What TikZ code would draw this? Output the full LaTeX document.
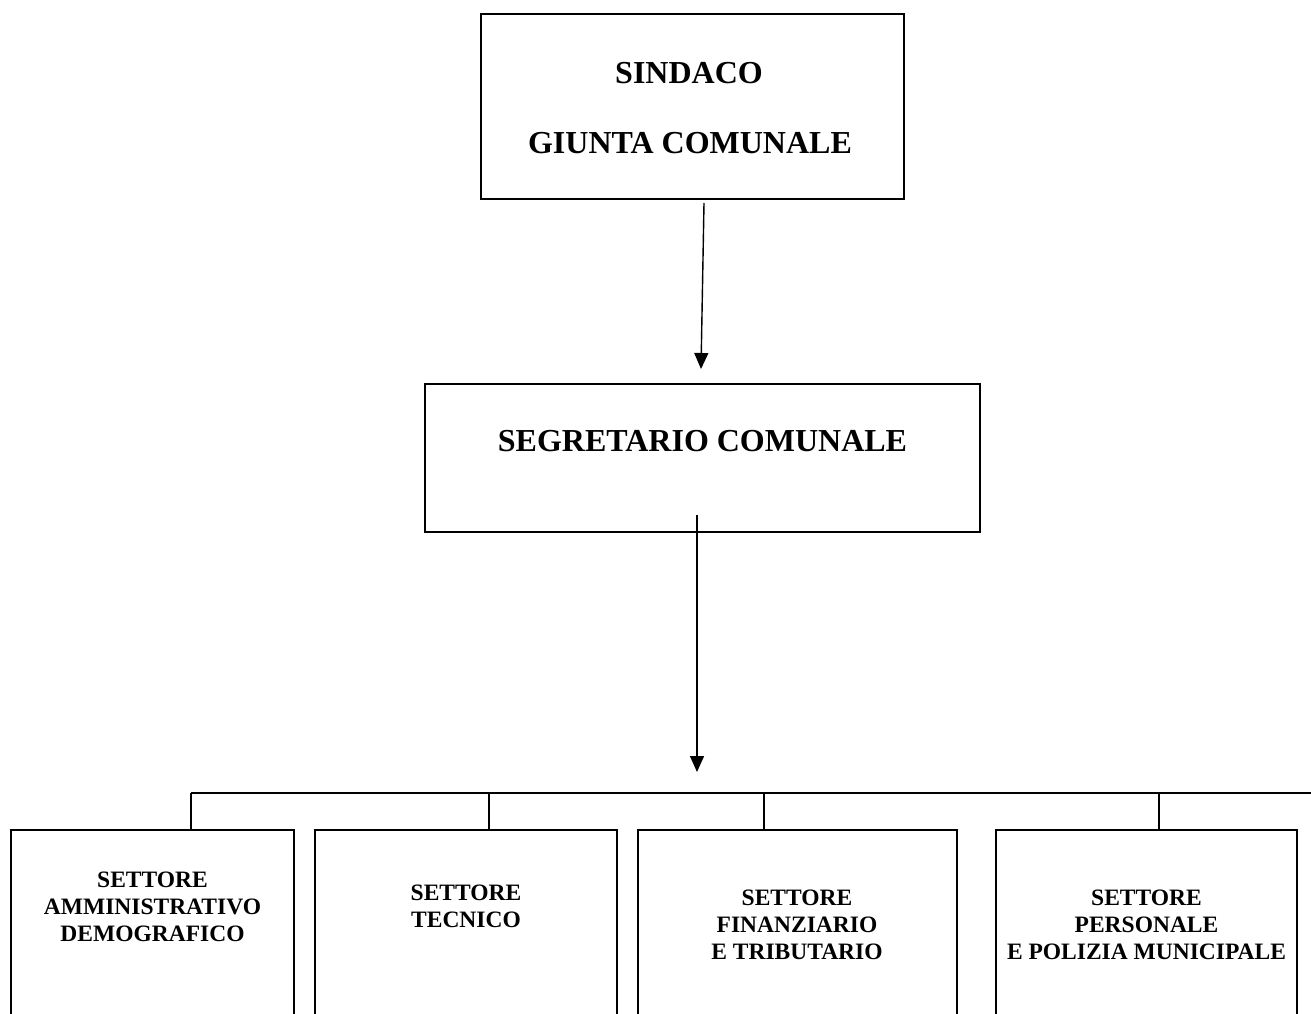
\documentclass[tikz,border=0pt]{standalone}
\usepackage{fontspec}
\setmainfont{Liberation Serif}
\usetikzlibrary{arrows.meta}
\begin{document}
\begin{tikzpicture}[x=1pt,y=-1pt,
  box/.style={draw, line width=2.2pt, rectangle, inner sep=0pt},
  big/.style={font=\bfseries\fontsize{32}{38}\selectfont, inner sep=0pt},
  small/.style={font=\bfseries\fontsize{23.5}{27}\selectfont, align=center, inner sep=0pt},
  arr/.style={line width=1.4pt, -{Triangle[length=16pt,width=14pt]}},
  link/.style={line width=2.2pt}]
\clip (0,0) rectangle (1311,1014);
\fill[white] (0,0) rectangle (1311,1014);
% top box
\node[box, minimum width=423pt, minimum height=185pt] (sind) at (692.5,106.5) {};
\node[big] (tsind) at (689,73) {SINDACO};
\node[big] (tgiunta) at (690,143) {GIUNTA COMUNALE};
% middle box
\node[box, minimum width=555pt, minimum height=148pt] (seg) at (702.5,458) {};
\node[big] (tseg) at (702.5,441) {SEGRETARIO COMUNALE};
% bottom boxes
\node[box, minimum width=283pt, minimum height=250pt] (b1) at (152.5,955) {};
\node[box, minimum width=302pt, minimum height=250pt] (b2) at (466,955) {};
\node[box, minimum width=319pt, minimum height=250pt] (b3) at (797.5,955) {};
\node[box, minimum width=301pt, minimum height=250pt] (b4) at (1146.5,955) {};
\node[small] (t1) at (152.5,907) {SETTORE\\AMMINISTRATIVO\\DEMOGRAFICO};
\node[small] (t2) at (466,906.5) {SETTORE\\TECNICO};
\node[small] (t3) at (797,925) {SETTORE\\FINANZIARIO\\E TRIBUTARIO};
\node[small] (t4) at (1146.5,925) {SETTORE\\PERSONALE\\E POLIZIA MUNICIPALE};
% arrows
\coordinate (a1s) at (704,203);
\coordinate (a1e) at (701,369);
\draw[arr] (a1s) -- (a1e);
\coordinate (a2s) at (697,515);
\coordinate (a2e) at (697,772);
\draw[arr] (a2s) -- (a2e);
% bus
\coordinate (j1) at (191,793);
\coordinate (j2) at (489,793);
\coordinate (j3) at (764,793);
\coordinate (j4) at (1159,793);
\coordinate (jr) at (1320,793);
\draw[link] (j1) -- (jr);
\draw[link] (j1) -- (j1 |- b1.north);
\draw[link] (j2) -- (j2 |- b2.north);
\draw[link] (j3) -- (j3 |- b3.north);
\draw[link] (j4) -- (j4 |- b4.north);
\end{tikzpicture}
\end{document}
